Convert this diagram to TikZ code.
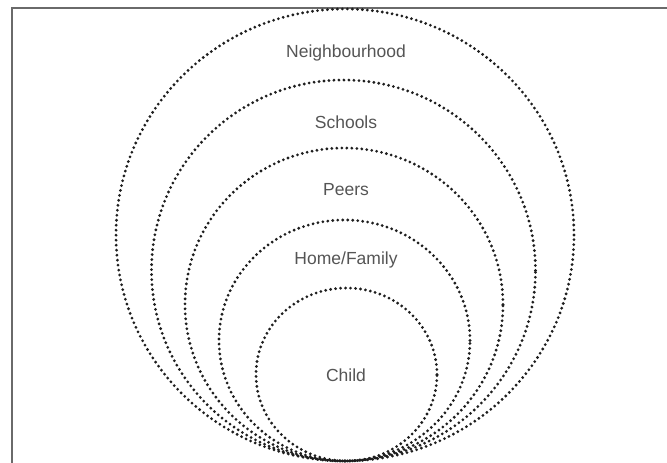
\documentclass[tikz,border=0pt]{standalone}
\usepackage{fontspec}
\setmainfont{Liberation Sans}
\usepackage{xcolor}
\usetikzlibrary{positioning}
\definecolor{framegray}{HTML}{6A6A6A}
\definecolor{labelgray}{HTML}{555555}
\definecolor{dotink}{HTML}{1E1E1E}

\begin{document}
\begin{tikzpicture}[
        x=1pt, y=-1pt,
        ring/.style={
            draw=dotink,
            line width=3.1pt,
            line cap=round,
            dash pattern=on 0pt off 5pt
        },
        layer/.style={
            text=labelgray,
            inner sep=1pt,
            font=\fontsize{17.5}{19}\selectfont
        }
    ]
        % Tamanho da figura e moldura cortada
        \useasboundingbox (0,0) rectangle (667,463);
        \clip (0,0) rectangle (667,463);
        \fill[white] (0,0) rectangle (667,463);
        \draw[framegray, line width=2.6pt] (12,8) rectangle (700,490);

        % Elipses pontilhadas, todas tangentes em baixo
        \draw[ring] (345,235) ellipse [x radius=229pt, y radius=226pt];
        \draw[ring] (343.5,270.5) ellipse [x radius=192pt, y radius=190.5pt];
        \draw[ring] (344,304.5) ellipse [x radius=159pt, y radius=156.5pt];
        \draw[ring] (344.5,340.5) ellipse [x radius=125.5pt, y radius=120.5pt];
        \draw[ring] (346.5,374.5) ellipse [x radius=90.5pt, y radius=86.5pt];

        % Rótulos das camadas
        \node[layer] (neigh) at (346,53) {Neighbourhood};
        \node[layer] (school) at (346,122) {Schools};
        \node[layer] (peers) at (346,190) {Peers};
        \node[layer] (home) at (346,260) {Home/Family};
        \node[layer] (child) at (346,375) {Child};
    \end{tikzpicture}
\end{document}
